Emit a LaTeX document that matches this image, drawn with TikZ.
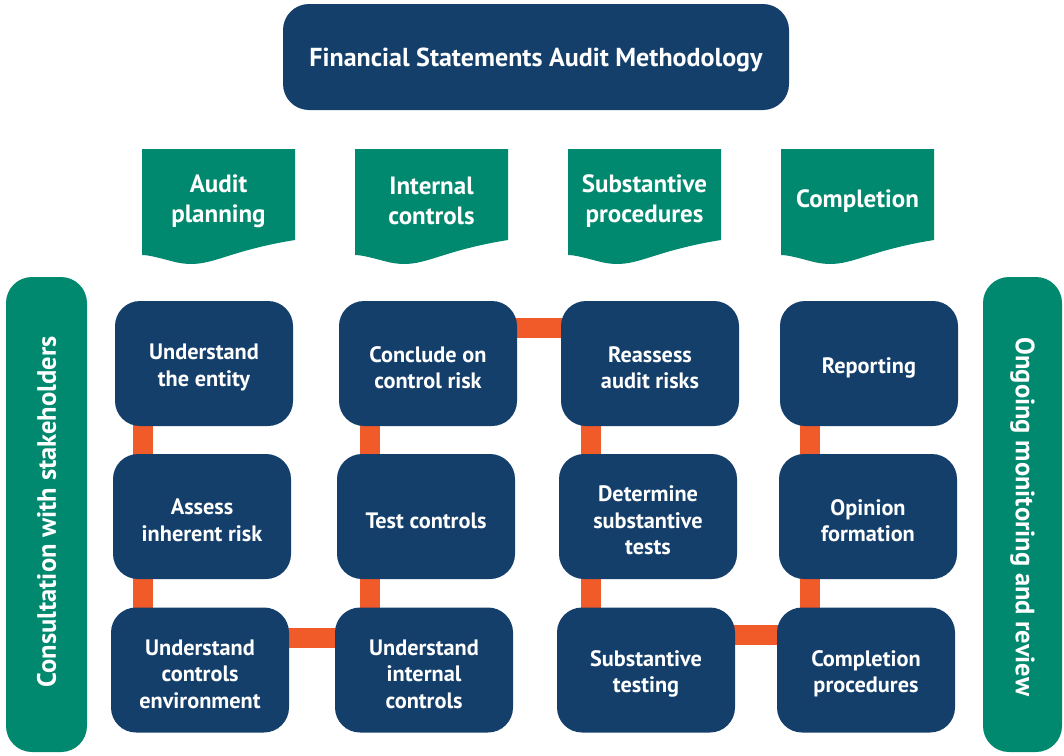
\documentclass[tikz,border=0pt]{standalone}
\usepackage{fontspec}
\setmainfont{PT Sans}
\usetikzlibrary{backgrounds,calc}
\definecolor{navy}{RGB}{21,63,107}
\definecolor{teal}{RGB}{0,137,110}
\definecolor{flame}{RGB}{241,90,41}
% Banner tab with a wavy lower edge; #1 = left x, #2 = name of the label node, #3 = label
\newcommand\wavetab[3]{%
  \fill[teal] (#1,149) -- ++(153,0) -- ++(0,91)
    .. controls +(-75,12) and +(35,8) .. ++(-120,22)
    .. controls +(-12,-3) and +(8,0) .. ++(-33,-7) -- cycle;
  \node[tabtext] (#2) at ($(#1,201)+(76.5,0)$) {#3};
}
% Process step: rounded box #1 at (#2,#3) with its label #4 set a little low
\newcommand\procstep[4]{%
  \node[stepbox] (#1) at (#2,#3) {};
  \node[steptext] (#1-t) at ([yshift=-4pt]#1.center) {#4};
}
\begin{document}
\begin{tikzpicture}[x=1pt,y=-1pt,
  title/.style={fill=navy,rounded corners=26pt,minimum width=506pt,minimum height=106pt},
  titletext/.style={text=white,font=\fontsize{26}{31}\selectfont\bfseries},
  stepbox/.style={fill=navy,rounded corners=25pt,minimum width=178pt,minimum height=125pt},
  steptext/.style={text=white,align=center,font=\fontsize{22.3}{26.5}\selectfont\bfseries},
  tabtext/.style={text=white,align=center,font=\fontsize{25}{30}\selectfont\bfseries},
  sidebar/.style={fill=teal,rounded corners=26pt},
  sidetext/.style={text=white,font=\fontsize{26.5}{31}\selectfont\bfseries},
  link/.style={draw=flame,line width=20pt}]
\useasboundingbox (0,0) rectangle (1064,755);

% heading
\node[title] (head) at (536,57) {};
\node[titletext] (head-t) at ([yshift=-3pt]head.center) {Financial Statements Audit Methodology};

% phase tabs
\wavetab{142}{tab1}{Audit\\planning}
\wavetab{355}{tab2}{Internal\\controls}
\wavetab{568}{tab3}{Substantive\\procedures}
\wavetab{781}{tab4}{Completion}

% side bars
\fill[sidebar] (6,277) rectangle (87,752);
\fill[sidebar] (983,277) rectangle (1062,752);
\node[sidetext,rotate=90] (left) at (46.5,512) {Consultation with stakeholders};
\node[sidetext,rotate=-90] (right) at (1022.5,517) {Ongoing monitoring and review};

% process steps
\procstep{p1}{204}{363.5}{Understand\\the entity}
\procstep{p2}{202}{516.5}{Assess\\inherent risk}
\procstep{p3}{200}{670}{Understand\\controls\\environment}
\procstep{c3}{424}{670}{Understand\\internal\\controls}
\procstep{c2}{426}{516.5}{Test controls}
\procstep{c1}{428}{363.5}{Conclude on\\control risk}
\procstep{s1}{650}{363.5}{Reassess\\audit risks}
\procstep{s2}{648}{516.5}{Determine\\substantive\\tests}
\procstep{s3}{646}{670}{Substantive\\testing}
\procstep{f3}{866}{670}{Completion\\procedures}
\procstep{f2}{868}{516.5}{Opinion\\formation}
\procstep{f1}{869}{363.5}{Reporting}

% guide lines for the connectors
\coordinate (xa) at (142.5,0);
\coordinate (xb) at (369.5,0);
\coordinate (xc) at (591,0);
\coordinate (xd) at (810,0);
\coordinate (ya) at (0,638);
\coordinate (yb) at (0,328);
\coordinate (yc) at (0,635);

\begin{pgfonlayer}{background}
  \draw[link] (p1 -| xa) -- (p2 -| xa) -- (p3 -| xa);
  \draw[link] (p3 |- ya) -- (c3 |- ya);
  \draw[link] (c3 -| xb) -- (c2 -| xb) -- (c1 -| xb);
  \draw[link] (c1 |- yb) -- (s1 |- yb);
  \draw[link] (s1 -| xc) -- (s2 -| xc) -- (s3 -| xc);
  \draw[link] (s3 |- yc) -- (f3 |- yc);
  \draw[link] (f3 -| xd) -- (f2 -| xd) -- (f1 -| xd);
\end{pgfonlayer}
\end{tikzpicture}
\end{document}
